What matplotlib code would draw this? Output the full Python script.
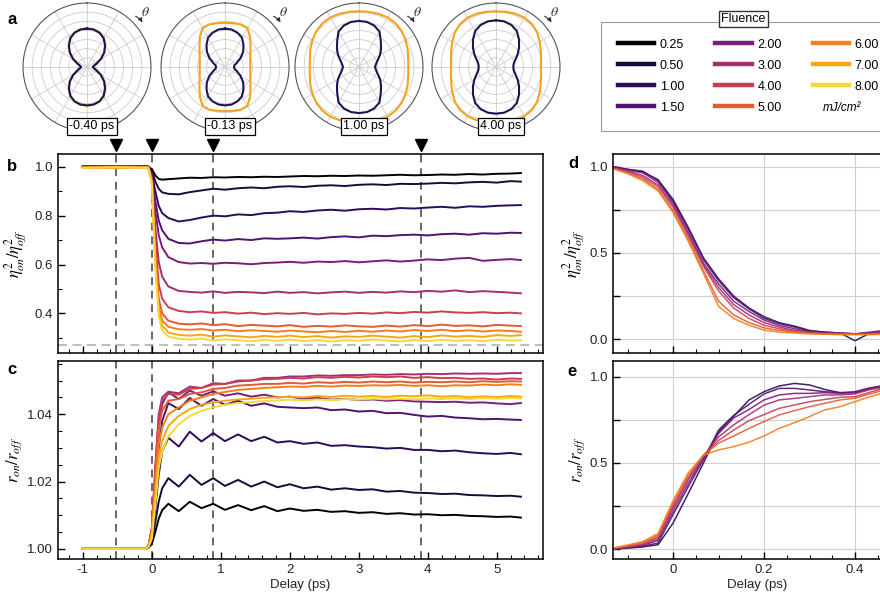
import numpy as np
import matplotlib
matplotlib.use("Agg")
import matplotlib.pyplot as plt
import matplotlib.transforms as mtransforms
from matplotlib.lines import Line2D
from matplotlib.ticker import MultipleLocator, FuncFormatter

plt.rcParams['font.family'] = ['Liberation Sans', 'DejaVu Sans']
plt.rcParams['mathtext.fontset'] = 'stix'
plt.rcParams['axes.unicode_minus'] = False

# === 数据 ===
fluence = ["0.25", "0.50", "1.00", "1.50", "2.00", "3.00", "4.00", "5.00", "6.00", "7.00", "8.00"]
colors = ["#000000", "#170b3b", "#2c0b5a", "#4f1370", "#7a1d7d", "#a2306f",
          "#c83f55", "#e35a35", "#f47e18", "#f9a614", "#f4d83c"]

delay = [-1.0, -0.5, -0.1, -0.05, 0.0, 0.05, 0.1, 0.15,
         0.24, 0.39, 0.55, 0.72, 0.89, 1.06, 1.25, 1.44, 1.63, 1.82,
         2.0, 2.2, 2.4, 2.6, 2.8, 3.0, 3.2, 3.4, 3.6, 3.8, 4.0, 4.2, 4.4, 4.6, 4.8, 5.0, 5.2,
         5.35]

# panel b: eta^2_on / eta^2_off
eta_025 = [1.002, 0.999, 1.001, 1.000, 0.990, 0.965, 0.950, 0.947,
           0.949, 0.952, 0.955, 0.954, 0.957, 0.956, 0.958, 0.957, 0.959, 0.958,
           0.960, 0.962, 0.961, 0.963, 0.962, 0.964, 0.963, 0.965, 0.967, 0.965, 0.966, 0.968, 0.967, 0.970, 0.968, 0.971, 0.972,
           0.974]
eta_050 = [1.001, 1.000, 1.002, 0.999, 0.985, 0.940, 0.910, 0.895,
           0.889, 0.887, 0.896, 0.903, 0.910, 0.906, 0.912, 0.915, 0.912, 0.918,
           0.920, 0.917, 0.922, 0.924, 0.921, 0.926, 0.928, 0.925, 0.930, 0.929, 0.931, 0.934, 0.932, 0.936, 0.938, 0.935, 0.941,
           0.939]
eta_100 = [0.999, 1.002, 1.000, 1.000, 0.975, 0.900, 0.840, 0.810,
           0.790, 0.776, 0.782, 0.792, 0.800, 0.797, 0.805, 0.802, 0.810, 0.812,
           0.818, 0.815, 0.821, 0.824, 0.820, 0.826, 0.828, 0.825, 0.831, 0.829, 0.833, 0.836, 0.832, 0.838, 0.836, 0.840, 0.842,
           0.843]
eta_150 = [1.000, 0.998, 1.001, 1.000, 0.970, 0.860, 0.780, 0.740,
           0.705, 0.688, 0.686, 0.695, 0.702, 0.698, 0.704, 0.700, 0.707, 0.705,
           0.707, 0.710, 0.706, 0.712, 0.715, 0.711, 0.718, 0.716, 0.720, 0.722, 0.719, 0.724, 0.726, 0.722, 0.728, 0.726, 0.730,
           0.729]
eta_200 = [1.002, 1.000, 0.999, 0.998, 0.965, 0.820, 0.720, 0.670,
           0.630, 0.610, 0.604, 0.606, 0.603, 0.607, 0.605, 0.601, 0.606, 0.608,
           0.611, 0.607, 0.612, 0.610, 0.614, 0.609, 0.613, 0.617, 0.612, 0.616, 0.621, 0.618, 0.624, 0.627, 0.615, 0.619, 0.622,
           0.618]
eta_300 = [0.998, 1.001, 1.000, 0.998, 0.955, 0.750, 0.610, 0.550,
           0.510, 0.492, 0.488, 0.485, 0.490, 0.484, 0.488, 0.486, 0.483, 0.489,
           0.484, 0.487, 0.482, 0.486, 0.489, 0.484, 0.488, 0.485, 0.490, 0.487, 0.492, 0.489, 0.494, 0.487, 0.491, 0.488, 0.485,
           0.482]
eta_400 = [0.997, 1.000, 0.998, 0.997, 0.950, 0.700, 0.520, 0.460,
           0.425, 0.410, 0.405, 0.408, 0.402, 0.405, 0.399, 0.403, 0.397, 0.401,
           0.398, 0.402, 0.396, 0.400, 0.398, 0.402, 0.399, 0.404, 0.401, 0.406, 0.403, 0.408, 0.404, 0.402, 0.405, 0.401, 0.403,
           0.400]
eta_500 = [0.998, 0.996, 0.999, 0.997, 0.945, 0.660, 0.460, 0.400,
           0.370, 0.358, 0.355, 0.359, 0.352, 0.356, 0.348, 0.353, 0.350, 0.347,
           0.352, 0.345, 0.349, 0.346, 0.351, 0.347, 0.345, 0.350, 0.346, 0.352, 0.348, 0.354, 0.349, 0.351, 0.347, 0.353, 0.350,
           0.348]
eta_600 = [0.996, 0.999, 0.997, 0.996, 0.940, 0.630, 0.430, 0.370,
           0.345, 0.335, 0.333, 0.336, 0.330, 0.333, 0.327, 0.331, 0.328, 0.325,
           0.330, 0.326, 0.323, 0.328, 0.324, 0.329, 0.325, 0.330, 0.326, 0.332, 0.328, 0.333, 0.327, 0.331, 0.326, 0.330, 0.328,
           0.325]
eta_700 = [0.997, 0.995, 0.998, 0.996, 0.935, 0.610, 0.410, 0.350,
           0.322, 0.312, 0.309, 0.313, 0.305, 0.310, 0.306, 0.302, 0.308, 0.304,
           0.309, 0.303, 0.307, 0.301, 0.306, 0.304, 0.309, 0.305, 0.301, 0.307, 0.303, 0.310, 0.305, 0.308, 0.304, 0.311, 0.308,
           0.311]
eta_800 = [0.995, 0.998, 0.996, 0.995, 0.930, 0.590, 0.390, 0.330,
           0.305, 0.296, 0.293, 0.297, 0.289, 0.294, 0.290, 0.286, 0.292, 0.288,
           0.293, 0.287, 0.291, 0.285, 0.290, 0.288, 0.293, 0.289, 0.285, 0.291, 0.287, 0.292, 0.288, 0.290, 0.286, 0.292, 0.289,
           0.290]

# panel c: r_on / r_off
r_025 = [1.0000, 1.0000, 1.0000, 1.0003, 1.0015, 1.0050, 1.0090, 1.0115,
         1.0134, 1.0112, 1.0140, 1.0121, 1.0134, 1.0116, 1.0130, 1.0115, 1.0127, 1.0112,
         1.0120, 1.0113, 1.0116, 1.0110, 1.0112, 1.0107, 1.0109, 1.0104, 1.0106, 1.0102, 1.0103, 1.0100, 1.0101, 1.0098, 1.0097, 1.0095, 1.0096,
         1.0093]
r_050 = [1.0000, 1.0000, 1.0000, 1.0004, 1.0020, 1.0080, 1.0140, 1.0180,
         1.0210, 1.0185, 1.0220, 1.0190, 1.0210, 1.0187, 1.0205, 1.0185, 1.0200, 1.0183,
         1.0192, 1.0180, 1.0185, 1.0176, 1.0180, 1.0175, 1.0177, 1.0170, 1.0172, 1.0167, 1.0166, 1.0163, 1.0164, 1.0160, 1.0159, 1.0157, 1.0158,
         1.0155]
r_100 = [1.0000, 1.0000, 1.0000, 1.0005, 1.0030, 1.0120, 1.0220, 1.0290,
         1.0330, 1.0304, 1.0348, 1.0319, 1.0344, 1.0320, 1.0340, 1.0320, 1.0333, 1.0316,
         1.0320, 1.0312, 1.0316, 1.0306, 1.0308, 1.0304, 1.0302, 1.0298, 1.0300, 1.0294, 1.0294, 1.0290, 1.0292, 1.0287, 1.0284, 1.0282, 1.0285,
         1.0281]
r_150 = [1.0000, 1.0000, 1.0000, 1.0006, 1.0040, 1.0160, 1.0300, 1.0380,
         1.0433, 1.0415, 1.0448, 1.0425, 1.0445, 1.0428, 1.0440, 1.0425, 1.0432, 1.0422,
         1.0420, 1.0418, 1.0420, 1.0412, 1.0414, 1.0408, 1.0410, 1.0403, 1.0404, 1.0398, 1.0393, 1.0395, 1.0390, 1.0388, 1.0385, 1.0386, 1.0384,
         1.0383]
r_200 = [1.0000, 1.0000, 1.0000, 1.0007, 1.0050, 1.0200, 1.0360, 1.0430,
         1.0465, 1.0445, 1.0470, 1.0455, 1.0468, 1.0455, 1.0462, 1.0452, 1.0458, 1.0450,
         1.0452, 1.0446, 1.0449, 1.0443, 1.0446, 1.0442, 1.0444, 1.0440, 1.0442, 1.0438, 1.0437, 1.0436, 1.0437, 1.0434, 1.0435, 1.0432, 1.0430,
         1.0433]
r_300 = [1.0000, 1.0000, 1.0000, 1.0008, 1.0060, 1.0240, 1.0400, 1.0450,
         1.0467, 1.0462, 1.0482, 1.0478, 1.0492, 1.0490, 1.0500, 1.0500, 1.0508, 1.0508,
         1.0512, 1.0512, 1.0515, 1.0514, 1.0516, 1.0516, 1.0518, 1.0517, 1.0519, 1.0518, 1.0520, 1.0519, 1.0521, 1.0520, 1.0521, 1.0520, 1.0522,
         1.0522]
r_400 = [1.0000, 1.0000, 1.0000, 1.0008, 1.0060, 1.0240, 1.0390, 1.0440,
         1.0460, 1.0458, 1.0475, 1.0478, 1.0488, 1.0490, 1.0497, 1.0500, 1.0504, 1.0505,
         1.0508, 1.0506, 1.0510, 1.0508, 1.0511, 1.0509, 1.0512, 1.0510, 1.0512, 1.0508, 1.0510, 1.0507, 1.0508, 1.0505, 1.0506, 1.0503, 1.0506,
         1.0505]
r_500 = [1.0000, 1.0000, 1.0000, 1.0008, 1.0060, 1.0220, 1.0360, 1.0410,
         1.0440, 1.0445, 1.0460, 1.0465, 1.0475, 1.0478, 1.0485, 1.0487, 1.0490, 1.0490,
         1.0493, 1.0491, 1.0495, 1.0493, 1.0496, 1.0494, 1.0497, 1.0495, 1.0497, 1.0494, 1.0496, 1.0495, 1.0497, 1.0495, 1.0498, 1.0496, 1.0498,
         1.0497]
r_600 = [1.0000, 1.0000, 1.0000, 1.0007, 1.0050, 1.0190, 1.0310, 1.0360,
         1.0400, 1.0420, 1.0440, 1.0450, 1.0460, 1.0466, 1.0472, 1.0475, 1.0478, 1.0480,
         1.0482, 1.0481, 1.0484, 1.0482, 1.0485, 1.0484, 1.0486, 1.0485, 1.0487, 1.0484, 1.0486, 1.0483, 1.0486, 1.0485, 1.0488, 1.0486, 1.0489,
         1.0487]
r_700 = [1.0000, 1.0000, 1.0000, 1.0006, 1.0040, 1.0160, 1.0270, 1.0320,
         1.0365, 1.0395, 1.0415, 1.0428, 1.0435, 1.0440, 1.0444, 1.0446, 1.0449, 1.0450,
         1.0452, 1.0450, 1.0454, 1.0451, 1.0455, 1.0452, 1.0454, 1.0451, 1.0455, 1.0453, 1.0456, 1.0452, 1.0454, 1.0450, 1.0453, 1.0451, 1.0454,
         1.0452]
r_800 = [1.0000, 1.0000, 1.0000, 1.0005, 1.0030, 1.0130, 1.0240, 1.0290,
         1.0335, 1.0370, 1.0395, 1.0410, 1.0420, 1.0428, 1.0433, 1.0436, 1.0439, 1.0441,
         1.0443, 1.0441, 1.0444, 1.0442, 1.0445, 1.0443, 1.0446, 1.0444, 1.0446, 1.0444, 1.0447, 1.0445, 1.0447, 1.0445, 1.0448, 1.0446, 1.0448,
         1.0447]

eta_curves = [eta_025, eta_050, eta_100, eta_150, eta_200, eta_300,
              eta_400, eta_500, eta_600, eta_700, eta_800]
r_curves = [r_025, r_050, r_100, r_150, r_200, r_300,
            r_400, r_500, r_600, r_700, r_800]

# panels d, e: normalised early-time traces (1.00 ... 6.00 mJ/cm2)
delay_zoom = [-0.133, -0.1, -0.067, -0.033, 0.0, 0.033, 0.067, 0.1, 0.133, 0.167,
              0.2, 0.233, 0.267, 0.3, 0.333, 0.367, 0.4, 0.433, 0.467]
zoom_idx = [2, 3, 4, 5, 6, 7, 8]

eta_n_100 = [1.0, 0.985, 0.97, 0.925, 0.81, 0.65, 0.47, 0.35, 0.25, 0.18,
             0.13, 0.095, 0.075, 0.05, 0.04, 0.035, -0.01, 0.035, 0.045]
eta_n_150 = [1.0, 0.985, 0.975, 0.92, 0.80, 0.64, 0.46, 0.34, 0.24, 0.175,
             0.12, 0.09, 0.07, 0.045, 0.04, 0.035, 0.03, 0.04, 0.05]
eta_n_200 = [1.0, 0.98, 0.965, 0.91, 0.79, 0.62, 0.44, 0.32, 0.22, 0.16,
             0.11, 0.08, 0.06, 0.04, 0.035, 0.035, 0.03, 0.035, 0.045]
eta_n_300 = [0.995, 0.975, 0.95, 0.895, 0.775, 0.61, 0.43, 0.30, 0.20, 0.14,
             0.095, 0.07, 0.05, 0.04, 0.033, 0.033, 0.03, 0.035, 0.04]
eta_n_400 = [0.995, 0.97, 0.94, 0.885, 0.765, 0.60, 0.42, 0.28, 0.18, 0.12,
             0.08, 0.06, 0.045, 0.035, 0.03, 0.03, 0.028, 0.03, 0.035]
eta_n_500 = [0.99, 0.965, 0.93, 0.87, 0.745, 0.58, 0.395, 0.22, 0.14, 0.095,
             0.065, 0.05, 0.04, 0.033, 0.03, 0.028, 0.028, 0.028, 0.03]
eta_n_600 = [0.99, 0.96, 0.92, 0.86, 0.735, 0.57, 0.38, 0.19, 0.12, 0.08,
             0.052, 0.04, 0.035, 0.03, 0.028, 0.025, 0.025, 0.025, 0.028]

r_n_100 = [0.0, 0.005, 0.012, 0.025, 0.15, 0.32, 0.50, 0.68, 0.77, 0.865,
           0.913, 0.946, 0.961, 0.952, 0.926, 0.907, 0.907, 0.932, 0.95]
r_n_150 = [0.0, 0.008, 0.015, 0.035, 0.20, 0.36, 0.52, 0.69, 0.775, 0.84,
           0.90, 0.932, 0.932, 0.923, 0.913, 0.907, 0.913, 0.935, 0.95]
r_n_200 = [0.0, 0.01, 0.02, 0.05, 0.22, 0.38, 0.53, 0.67, 0.76, 0.81,
           0.865, 0.894, 0.903, 0.903, 0.907, 0.904, 0.907, 0.93, 0.945]
r_n_300 = [0.0, 0.012, 0.025, 0.06, 0.24, 0.40, 0.54, 0.65, 0.72, 0.78,
           0.835, 0.865, 0.874, 0.884, 0.894, 0.894, 0.90, 0.925, 0.94]
r_n_400 = [0.002, 0.015, 0.03, 0.07, 0.25, 0.41, 0.545, 0.63, 0.69, 0.745,
           0.78, 0.816, 0.836, 0.855, 0.868, 0.88, 0.884, 0.91, 0.935]
r_n_500 = [0.003, 0.018, 0.036, 0.08, 0.265, 0.425, 0.545, 0.615, 0.655, 0.70,
           0.74, 0.778, 0.803, 0.826, 0.845, 0.865, 0.875, 0.90, 0.925]
r_n_600 = [0.005, 0.023, 0.043, 0.09, 0.28, 0.44, 0.545, 0.575, 0.594, 0.62,
           0.656, 0.70, 0.733, 0.768, 0.807, 0.826, 0.855, 0.884, 0.91]

eta_n_curves = [eta_n_100, eta_n_150, eta_n_200, eta_n_300, eta_n_400, eta_n_500, eta_n_600]
r_n_curves = [r_n_100, r_n_150, r_n_200, r_n_300, r_n_400, r_n_500, r_n_600]

# panel a: polar patterns, one quadrant (0..90 deg from vertical), mirrored
theta_q = [0, 10, 20, 30, 40, 50, 60, 70, 80, 90]
off_m040 = [0.60, 0.595, 0.57, 0.52, 0.44, 0.35, 0.25, 0.16, 0.11, 0.09]
on_m040 = [0.605, 0.60, 0.575, 0.525, 0.445, 0.355, 0.255, 0.165, 0.115, 0.095]
off_m013 = [0.60, 0.595, 0.57, 0.53, 0.45, 0.37, 0.28, 0.20, 0.15, 0.14]
on_m013 = [0.69, 0.695, 0.71, 0.70, 0.61, 0.52, 0.46, 0.42, 0.40, 0.395]
off_100 = [0.72, 0.715, 0.69, 0.64, 0.53, 0.45, 0.38, 0.31, 0.27, 0.25]
on_100 = [0.87, 0.875, 0.885, 0.895, 0.89, 0.87, 0.84, 0.81, 0.78, 0.77]
off_400 = [0.73, 0.725, 0.70, 0.65, 0.56, 0.47, 0.39, 0.32, 0.28, 0.27]
on_400 = [0.87, 0.875, 0.885, 0.89, 0.875, 0.84, 0.79, 0.745, 0.715, 0.70]
polar_labels = ["-0.40 ps", "-0.13 ps", "1.00 ps", "4.00 ps"]
polar_off = [off_m040, off_m013, off_100, off_400]
polar_on = [on_m040, on_m013, on_100, on_400]

marker_delays = [-0.52, 0.0, 0.88, 3.9]
eta_floor = 0.27

W, H = 880, 592


def fig_rect(x0, y0, x1, y1):
    return [x0 / W, 1 - y1 / H, (x1 - x0) / W, (y1 - y0) / H]


def full_turn(q):
    q = list(q)
    return np.array(q + q[-2::-1] + q[1:] + q[-2::-1])


fig = plt.figure(figsize=(8.8, 5.92), dpi=100)

tick_kw = dict(direction='in', colors='black', labelcolor='#222222', labelsize=9.5)


def frame_axes(ax):
    for s in ax.spines.values():
        s.set_linewidth(1.1)
    ax.tick_params(which='major', length=5, width=1, **tick_kw)
    ax.tick_params(which='minor', length=3, width=0.8, direction='in')


# === b ===
ax_b = fig.add_axes(fig_rect(58, 154, 543, 353))
for y, c in zip(eta_curves, colors):
    ax_b.plot(delay, y, color=c, lw=1.4)
ax_b.axhline(eta_floor, color='#b8b8b8', ls=(0, (5, 3)), lw=1.3, zorder=0)
ax_b.set_xlim(-1.36, 5.67)
ax_b.set_ylim(0.238, 1.052)
ax_b.xaxis.set_major_locator(MultipleLocator(1))
ax_b.xaxis.set_minor_locator(MultipleLocator(0.2))
ax_b.yaxis.set_major_locator(MultipleLocator(0.2))
ax_b.yaxis.set_minor_locator(MultipleLocator(0.1))
ax_b.set_xticklabels([])
ax_b.yaxis.set_major_formatter(FuncFormatter(lambda v, p: f'{v:.1f}'))
frame_axes(ax_b)
ax_b.set_ylabel(r'$\eta^2_{on}/\eta^2_{off}$', fontsize=12, labelpad=4)

# === c ===
ax_c = fig.add_axes(fig_rect(58, 361, 543, 559))
for y, c in zip(r_curves, colors):
    ax_c.plot(delay, y, color=c, lw=1.4)
ax_c.set_xlim(-1.36, 5.67)
ax_c.set_ylim(0.997, 1.0558)
ax_c.xaxis.set_major_locator(MultipleLocator(1))
ax_c.xaxis.set_minor_locator(MultipleLocator(0.2))
ax_c.yaxis.set_major_locator(MultipleLocator(0.02))
ax_c.yaxis.set_minor_locator(MultipleLocator(0.005))
ax_c.yaxis.set_major_formatter(FuncFormatter(lambda v, p: f'{v:.2f}'))
ax_c.xaxis.set_major_formatter(FuncFormatter(lambda v, p: f'{v:.0f}'))
frame_axes(ax_c)
ax_c.set_ylabel(r'$r_{on}/r_{off}$', fontsize=12, labelpad=2)
ax_c.set_xlabel('Delay (ps)', fontsize=9.5, labelpad=2, color='#222222')

for ax in (ax_b, ax_c):
    for xd in marker_delays:
        ax.axvline(xd, color='#666666', ls=(0, (4, 3)), lw=1.4, zorder=0.5)

# 箭头标记
trans = mtransforms.blended_transform_factory(ax_b.transData, ax_b.transAxes)
ax_b.plot(marker_delays, [1.045] * len(marker_delays), 'v', color='black',
          markersize=8, transform=trans, clip_on=False)

# === d, e ===
ax_d = fig.add_axes(fig_rect(613, 154, 613 + 0.632 * 455, 353))
ax_e = fig.add_axes(fig_rect(613, 361, 613 + 0.632 * 455, 559))
for ax, curves in ((ax_d, eta_n_curves), (ax_e, r_n_curves)):
    for y, i in zip(curves, zoom_idx):
        ax.plot(delay_zoom, y, color=colors[i], lw=1.1, alpha=0.9)
    ax.set_xlim(-0.132, 0.5)
    ax.xaxis.set_major_locator(MultipleLocator(0.2))
    ax.xaxis.set_minor_locator(MultipleLocator(0.05))
    ax.yaxis.set_major_locator(MultipleLocator(0.25))
    ax.yaxis.set_major_formatter(
        FuncFormatter(lambda v, p: f'{v:.1f}' if abs(v * 2 - round(v * 2)) < 1e-6 else ''))
    ax.grid(True, which='major', color='#cfcfcf', lw=0.8)
    ax.set_axisbelow(True)
    frame_axes(ax)
ax_d.set_ylim(-0.081, 1.074)
ax_e.set_ylim(-0.058, 1.091)
ax_d.set_xticklabels([])
ax_e.xaxis.set_major_formatter(FuncFormatter(lambda v, p: '0' if abs(v) < 1e-9 else f'{v:.1f}'))
ax_d.set_ylabel(r'$\eta^2_{on}/\eta^2_{off}$', fontsize=12, labelpad=2)
ax_e.set_ylabel(r'$r_{on}/r_{off}$', fontsize=12, labelpad=2)
ax_e.set_xlabel('Delay (ps)', fontsize=9.5, labelpad=2, color='#222222')

# === a: 极坐标图 ===
theta = np.deg2rad(np.arange(0, 361, 10))
centers = [87, 225, 359, 496]
for cx, lab, r_off, r_on in zip(centers, polar_labels, polar_off, polar_on):
    pax = fig.add_axes(fig_rect(cx - 64, 3, cx + 64, 131), projection='polar')
    pax.set_theta_zero_location('N')
    pax.set_theta_direction(-1)
    pax.plot(theta, full_turn(r_on), color='#f6a21e', lw=1.5)
    pax.plot(theta, full_turn(r_off), color='#1f1450', lw=1.5)
    pax.set_ylim(0, 1)
    pax.set_rticks(np.arange(1, 7) / 7)
    pax.set_yticklabels([])
    pax.set_thetagrids(range(0, 360, 30), labels=[])
    pax.grid(color='#cccccc', lw=0.6)
    pax.spines['polar'].set_color('#555555')
    pax.spines['polar'].set_linewidth(0.8)
    pax.annotate('', xy=(0.945, 0.83), xytext=(0.86, 0.905), xycoords='axes fraction',
                 arrowprops=dict(arrowstyle='-|>', color='#333333', lw=0.8,
                                 mutation_scale=6, connectionstyle='arc3,rad=-0.2'),
                 annotation_clip=False)
    pax.text(0.96, 0.93, r'$\theta$', transform=pax.transAxes, fontsize=10,
             ha='center', va='center', color='#333333')
    fig.text((cx + 5) / W, 1 - 126 / H, lab, ha='center', va='center', fontsize=9,
             bbox=dict(boxstyle='square,pad=0.2', fc='white', ec='black', lw=0.9))

# === 图例 ===
lax = fig.add_axes(fig_rect(601, 22, 910, 127))
lax.axis('off')
handles = [Line2D([], [], color=c, lw=3.2) for c in colors]
leg = lax.legend(handles, fluence, ncol=3, loc='upper left', bbox_to_anchor=(0, 1),
                 borderaxespad=0, fontsize=9, handlelength=2.9, handletextpad=0.45,
                 columnspacing=2.5, labelspacing=0.72, borderpad=1.35,
                 fancybox=False, edgecolor='#9a9a9a', framealpha=1)
leg.get_frame().set_linewidth(0.8)
fig.text(743.5 / W, 1 - 19 / H, 'Fluence', ha='center', va='center', fontsize=9,
         bbox=dict(boxstyle='square,pad=0.15', fc='white', ec='#333333', lw=1))
fig.text(823 / W, 1 - 108 / H, 'mJ/cm²', ha='left', va='center', fontsize=8.5, style='italic')

# 面板标签
for lab, (x, y) in zip('abcde', [(12, 19), (12, 166), (12, 370), (573, 163), (572, 371)]):
    fig.text(x / W, 1 - y / H, lab, ha='center', va='center', fontsize=12, fontweight='bold')

fig.savefig('out.png', dpi=100)
